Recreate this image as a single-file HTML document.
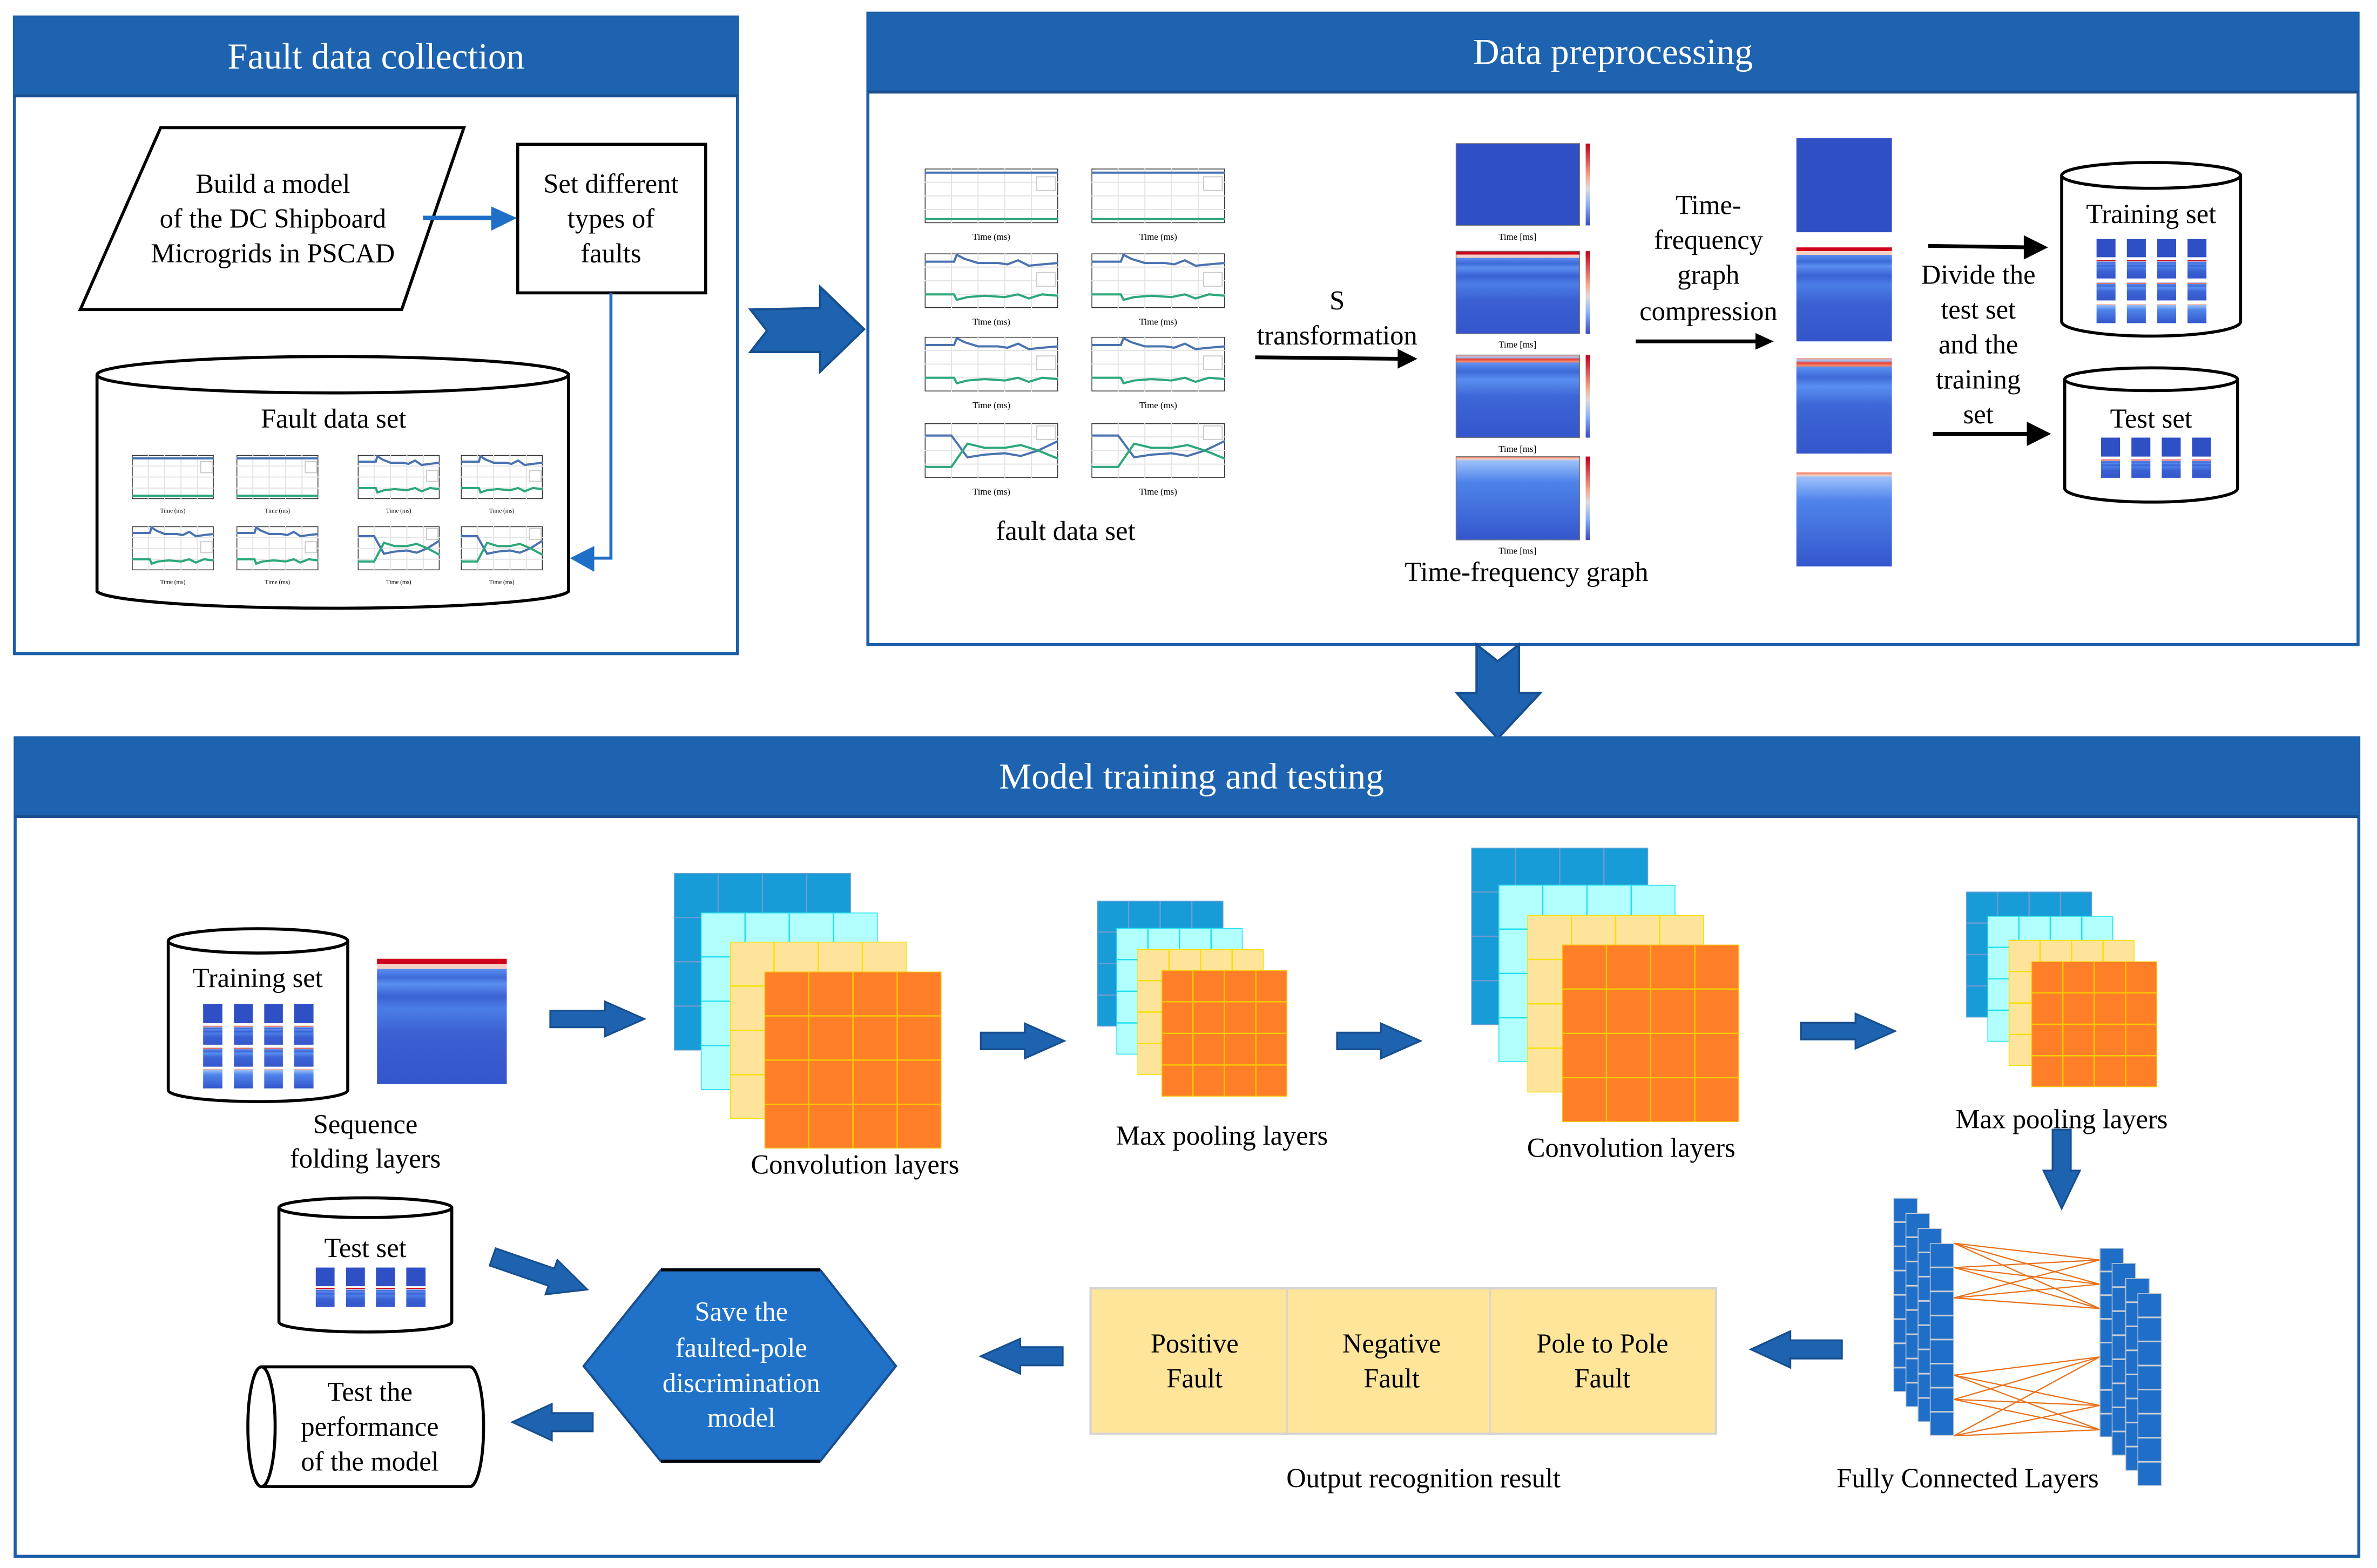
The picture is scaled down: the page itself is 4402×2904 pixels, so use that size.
<!DOCTYPE html>
<html><head><meta charset="utf-8"><style>
html,body{margin:0;padding:0;background:#fff}
svg{display:block}
text{font-family:"Liberation Serif","Times New Roman",serif;fill:#000}
.h{fill:#fff;font-size:24px}
.t{font-size:18px}
.s{font-size:17px}
</style></head><body>
<svg width="4402" height="2904" viewBox="0 0 1568 1034" xmlns="http://www.w3.org/2000/svg" xmlns:xlink="http://www.w3.org/1999/xlink">
<defs>
<symbol id="grid" viewBox="0 0 4 4" preserveAspectRatio="none">
<rect width="4" height="4" vector-effect="non-scaling-stroke" stroke-width="3"/>
<path d="M1 0V4M2 0V4M3 0V4M0 1H4M0 2H4M0 3H4" fill="none" vector-effect="non-scaling-stroke" stroke-width="2.5"/>
</symbol>
<symbol id="col8" viewBox="0 0 1 8" preserveAspectRatio="none">
<rect width="1" height="8" fill="#1f6fc8" stroke="#c8ccd4" stroke-width="3" vector-effect="non-scaling-stroke"/>
<path d="M0 1H1M0 2H1M0 3H1M0 4H1M0 5H1M0 6H1M0 7H1" stroke="#c8ccd4" stroke-width="3" vector-effect="non-scaling-stroke"/>
</symbol>
<symbol id="cf" viewBox="0 0 100 40" preserveAspectRatio="none">
<rect width="100" height="40" fill="#fff" stroke="#333" stroke-width="3" vector-effect="non-scaling-stroke"/>
<path d="M20 0V40M40 0V40M60 0V40M80 0V40M0 10H100M0 20H100M0 30H100" stroke="#e4e4e4" stroke-width="2" vector-effect="non-scaling-stroke"/>
<path d="M0 3H100" stroke="#4a72b0" stroke-width="4" fill="none" vector-effect="non-scaling-stroke"/>
<path d="M0 37H100" stroke="#2ca87a" stroke-width="4" fill="none" vector-effect="non-scaling-stroke"/>
<rect x="84" y="6" width="14" height="10" fill="#fff" stroke="#ccc" stroke-width="2" vector-effect="non-scaling-stroke"/>
</symbol>
<symbol id="cd" viewBox="0 0 100 40" preserveAspectRatio="none">
<rect width="100" height="40" fill="#fff" stroke="#333" stroke-width="3" vector-effect="non-scaling-stroke"/>
<path d="M20 0V40M40 0V40M60 0V40M80 0V40M0 10H100M0 20H100M0 30H100" stroke="#e4e4e4" stroke-width="2" vector-effect="non-scaling-stroke"/>
<path d="M0 6H22L24 1L30 4L40 7L55 7L62 8L70 5L78 9L88 8L100 7" stroke="#4a72b0" stroke-width="4" fill="none" vector-effect="non-scaling-stroke"/>
<path d="M0 30H22L24 34L32 32L45 31L60 32L70 30L78 33L88 30L100 31" stroke="#2ca87a" stroke-width="4" fill="none" vector-effect="non-scaling-stroke"/>
<rect x="84" y="14" width="14" height="10" fill="#fff" stroke="#ccc" stroke-width="2" vector-effect="non-scaling-stroke"/>
</symbol>
<symbol id="cv" viewBox="0 0 100 40" preserveAspectRatio="none">
<rect width="100" height="40" fill="#fff" stroke="#333" stroke-width="3" vector-effect="non-scaling-stroke"/>
<path d="M20 0V40M40 0V40M60 0V40M80 0V40M0 10H100M0 20H100M0 30H100" stroke="#e4e4e4" stroke-width="2" vector-effect="non-scaling-stroke"/>
<path d="M0 9H20L32 25L45 23L60 22L72 24L85 20L100 13" stroke="#4a72b0" stroke-width="4" fill="none" vector-effect="non-scaling-stroke"/>
<path d="M0 32H20L32 15L45 18L60 18L72 16L85 20L100 26" stroke="#2ca87a" stroke-width="4" fill="none" vector-effect="non-scaling-stroke"/>
<rect x="84" y="2" width="14" height="10" fill="#fff" stroke="#ccc" stroke-width="2" vector-effect="non-scaling-stroke"/>
</symbol>
<linearGradient id="g1" x1="0" y1="0" x2="0" y2="1"><stop offset="0" stop-color="#2f4fc4"/><stop offset="1" stop-color="#2f4fc4"/></linearGradient>
<linearGradient id="g2" x1="0" y1="0" x2="0" y2="1">
<stop offset="0" stop-color="#d0021b"/><stop offset="0.04" stop-color="#d0021b"/><stop offset="0.04" stop-color="#f4cfc6"/><stop offset="0.08" stop-color="#f4cfc6"/>
<stop offset="0.08" stop-color="#5a8ef0"/><stop offset="0.15" stop-color="#3e6ad8"/><stop offset="0.2" stop-color="#5a8ef0"/><stop offset="0.3" stop-color="#3a62d4"/><stop offset="0.4" stop-color="#4b7de6"/><stop offset="0.6" stop-color="#3a60d2"/><stop offset="1" stop-color="#3456cc"/></linearGradient>
<linearGradient id="g3" x1="0" y1="0" x2="0" y2="1">
<stop offset="0" stop-color="#f7a58a"/><stop offset="0.03" stop-color="#9fc0f8"/><stop offset="0.05" stop-color="#e8403a"/><stop offset="0.08" stop-color="#f48a6a"/><stop offset="0.1" stop-color="#5a8ef0"/><stop offset="0.2" stop-color="#3e6ad8"/><stop offset="0.3" stop-color="#5a8ef0"/><stop offset="0.5" stop-color="#3d66d6"/><stop offset="1" stop-color="#3456cc"/></linearGradient>
<linearGradient id="g4" x1="0" y1="0" x2="0" y2="1">
<stop offset="0" stop-color="#f46a50"/><stop offset="0.03" stop-color="#f4d0c0"/><stop offset="0.05" stop-color="#9cc0fa"/><stop offset="0.3" stop-color="#4f84ea"/><stop offset="1" stop-color="#3456cc"/></linearGradient>
<linearGradient id="cb" x1="0" y1="0" x2="0" y2="1"><stop offset="0" stop-color="#c0001e"/><stop offset="0.4" stop-color="#f4a88e"/><stop offset="0.55" stop-color="#dcdcdc"/><stop offset="0.75" stop-color="#8ab0f4"/><stop offset="1" stop-color="#3a4cc0"/></linearGradient>
</defs>

<!-- Panel 1 -->
<rect x="9.5" y="11" width="477" height="420" fill="#fff" stroke="#1d5ea8" stroke-width="2"/>
<rect x="9.5" y="11" width="477" height="52" fill="#1d63b0"/>
<line x1="9.5" y1="63" x2="486.5" y2="63" stroke="#1a4f8f" stroke-width="2"/>
<text class="h" x="248" y="45" text-anchor="middle">Fault data collection</text>
<polygon points="106,84 306,84 265,204 53,204" fill="#fff" stroke="#000" stroke-width="2"/>
<text class="t" x="180" y="127" text-anchor="middle">Build a model</text>
<text class="t" x="180" y="150" text-anchor="middle">of the DC Shipboard</text>
<text class="t" x="180" y="173" text-anchor="middle">Microgrids in PSCAD</text>
<rect x="341.5" y="95" width="124" height="98" fill="#fff" stroke="#000" stroke-width="2"/>
<text class="t" x="403" y="127" text-anchor="middle">Set different</text>
<text class="t" x="403" y="150" text-anchor="middle">types of</text>
<text class="t" x="403" y="173" text-anchor="middle">faults</text>
<line x1="279" y1="143.6" x2="326" y2="143.6" stroke="#1f6fc8" stroke-width="3"/>
<polygon points="324,136 341,143.6 324,152" fill="#1f6fc8"/>
<polyline points="403,193 403,368 390,368" fill="none" stroke="#1f6fc8" stroke-width="2"/>
<polygon points="392,360 376,368 392,377" fill="#1f6fc8"/>
<path d="M64 247 V390 A156 12 0 0 0 375 390 V247" fill="#fff" stroke="#000" stroke-width="2"/>
<ellipse cx="219.5" cy="247" rx="155.5" ry="12" fill="#fff" stroke="#000" stroke-width="2"/>
<text class="t" x="220" y="282" text-anchor="middle">Fault data set</text>
<use href="#cf" x="87" y="300" width="54" height="29"/>
<use href="#cf" x="156" y="300" width="54" height="29"/>
<use href="#cd" x="236" y="300" width="54" height="29"/>
<use href="#cd" x="304" y="300" width="54" height="29"/>
<use href="#cd" x="87" y="347" width="54" height="29"/>
<use href="#cd" x="156" y="347" width="54" height="29"/>
<use href="#cv" x="236" y="347" width="54" height="29"/>
<use href="#cv" x="304" y="347" width="54" height="29"/>
<g text-anchor="middle">
<text x="114" y="338" style="font-size:4px">Time (ms)</text><text x="183" y="338" style="font-size:4px">Time (ms)</text><text x="263" y="338" style="font-size:4px">Time (ms)</text><text x="331" y="338" style="font-size:4px">Time (ms)</text>
<text x="114" y="385" style="font-size:4px">Time (ms)</text><text x="183" y="385" style="font-size:4px">Time (ms)</text><text x="263" y="385" style="font-size:4px">Time (ms)</text><text x="331" y="385" style="font-size:4px">Time (ms)</text>
</g>

<!-- big arrow right -->
<polygon points="495,204 541,203 541,189 570,217 541,245 541,232 495,232 506,218" fill="#1d63b0" stroke="#174f90" stroke-width="1.5"/>

<!-- Panel 2 -->
<rect x="572.5" y="8.5" width="983" height="416.5" fill="#fff" stroke="#1d5ea8" stroke-width="2"/>
<rect x="572.5" y="8.5" width="983" height="52" fill="#1d63b0"/>
<line x1="572.5" y1="60.5" x2="1555.5" y2="60.5" stroke="#1a4f8f" stroke-width="2"/>
<text class="h" x="1064" y="42" text-anchor="middle">Data preprocessing</text>
<use href="#cf" x="610" y="111" width="88" height="36"/>
<use href="#cf" x="720" y="111" width="88" height="36"/>
<use href="#cd" x="610" y="167" width="88" height="36"/>
<use href="#cd" x="720" y="167" width="88" height="36"/>
<use href="#cd" x="610" y="222" width="88" height="36"/>
<use href="#cd" x="720" y="222" width="88" height="36"/>
<use href="#cv" x="610" y="279" width="88" height="36"/>
<use href="#cv" x="720" y="279" width="88" height="36"/>
<g text-anchor="middle">
<text x="654" y="158" style="font-size:6px">Time (ms)</text><text x="764" y="158" style="font-size:6px">Time (ms)</text>
<text x="654" y="214" style="font-size:6px">Time (ms)</text><text x="764" y="214" style="font-size:6px">Time (ms)</text>
<text x="654" y="269" style="font-size:6px">Time (ms)</text><text x="764" y="269" style="font-size:6px">Time (ms)</text>
<text x="654" y="326" style="font-size:6px">Time (ms)</text><text x="764" y="326" style="font-size:6px">Time (ms)</text>
</g>
<text class="t" x="703" y="356" text-anchor="middle">fault data set</text>
<text class="t" x="882" y="204" text-anchor="middle">S</text>
<text class="t" x="882" y="227" text-anchor="middle">transformation</text>
<line x1="828" y1="235.5" x2="924" y2="236.5" stroke="#000" stroke-width="2.5"/>
<polygon points="922,230 935,236.5 922,243" fill="#000"/>
<!-- spectrograms -->
<rect x="960.5" y="94.5" width="81.5" height="54" fill="url(#g1)" stroke="#777" stroke-width="0.5"/>
<rect x="960.5" y="165.5" width="81.5" height="54.5" fill="url(#g2)" stroke="#777" stroke-width="0.5"/>
<rect x="960.5" y="234" width="81.5" height="54.5" fill="url(#g3)" stroke="#777" stroke-width="0.5"/>
<rect x="960.5" y="301" width="81.5" height="55" fill="url(#g4)" stroke="#777" stroke-width="0.5"/>
<rect x="1046" y="94.5" width="3" height="54" fill="url(#cb)"/>
<rect x="1046" y="165.5" width="3" height="54.5" fill="url(#cb)"/>
<rect x="1046" y="234" width="3" height="54.5" fill="url(#cb)"/>
<rect x="1046" y="301" width="3" height="55" fill="url(#cb)"/>
<g text-anchor="middle">
<text x="1001" y="158" style="font-size:6px">Time [ms]</text>
<text x="1001" y="229" style="font-size:6px">Time [ms]</text>
<text x="1001" y="298" style="font-size:6px">Time [ms]</text>
<text x="1001" y="365" style="font-size:6px">Time [ms]</text>
</g>
<text class="t" x="1007" y="383" text-anchor="middle">Time-frequency graph</text>
<text class="t" x="1127" y="141" text-anchor="middle">Time-</text>
<text class="t" x="1127" y="164" text-anchor="middle">frequency</text>
<text class="t" x="1127" y="187" text-anchor="middle">graph</text>
<text class="t" x="1127" y="211" text-anchor="middle">compression</text>
<line x1="1079" y1="225" x2="1160" y2="225" stroke="#000" stroke-width="2.5"/>
<polygon points="1158,219.5 1170,225 1158,230.5" fill="#000"/>
<rect x="1185" y="91" width="63" height="62" fill="url(#g1)"/>
<rect x="1185" y="163" width="63" height="62" fill="url(#g2)"/>
<rect x="1185" y="236" width="63" height="63" fill="url(#g3)"/>
<rect x="1185" y="311.5" width="63" height="62" fill="url(#g4)"/>
<line x1="1272" y1="162" x2="1340" y2="163" stroke="#000" stroke-width="2.5"/>
<polygon points="1335,155 1351,163 1335,171" fill="#000"/>
<line x1="1275" y1="286" x2="1341" y2="286" stroke="#000" stroke-width="2.5"/>
<polygon points="1337,278 1353,286 1337,294" fill="#000"/>
<text class="t" x="1305" y="187" text-anchor="middle">Divide the</text>
<text class="t" x="1305" y="210" text-anchor="middle">test set</text>
<text class="t" x="1305" y="233" text-anchor="middle">and the</text>
<text class="t" x="1305" y="256" text-anchor="middle">training</text>
<text class="t" x="1305" y="279" text-anchor="middle">set</text>
<!-- training cyl -->
<path d="M1360 115.5 V212 A59 9.5 0 0 0 1478 212 V115.5" fill="#fff" stroke="#000" stroke-width="2"/>
<ellipse cx="1419" cy="115.5" rx="59" ry="8.5" fill="#fff" stroke="#000" stroke-width="2"/>
<text class="t" x="1419" y="147" text-anchor="middle">Training set</text>
<g>
<rect x="1383" y="157.5" width="12.5" height="12" fill="url(#g1)"/><rect x="1403" y="157.5" width="12.5" height="12" fill="url(#g1)"/><rect x="1423" y="157.5" width="12.5" height="12" fill="url(#g1)"/><rect x="1443" y="157.5" width="12.5" height="12" fill="url(#g1)"/>
<rect x="1383" y="171.5" width="12.5" height="12" fill="url(#g2)"/><rect x="1403" y="171.5" width="12.5" height="12" fill="url(#g2)"/><rect x="1423" y="171.5" width="12.5" height="12" fill="url(#g2)"/><rect x="1443" y="171.5" width="12.5" height="12" fill="url(#g2)"/>
<rect x="1383" y="186" width="12.5" height="12" fill="url(#g3)"/><rect x="1403" y="186" width="12.5" height="12" fill="url(#g3)"/><rect x="1423" y="186" width="12.5" height="12" fill="url(#g3)"/><rect x="1443" y="186" width="12.5" height="12" fill="url(#g3)"/>
<rect x="1383" y="200.5" width="12.5" height="12.5" fill="url(#g4)"/><rect x="1403" y="200.5" width="12.5" height="12.5" fill="url(#g4)"/><rect x="1423" y="200.5" width="12.5" height="12.5" fill="url(#g4)"/><rect x="1443" y="200.5" width="12.5" height="12.5" fill="url(#g4)"/>
</g>
<!-- test cyl -->
<path d="M1362 250 V322 A57 9 0 0 0 1476 322 V250" fill="#fff" stroke="#000" stroke-width="2"/>
<ellipse cx="1419" cy="250" rx="57" ry="7.5" fill="#fff" stroke="#000" stroke-width="2"/>
<text class="t" x="1419" y="282" text-anchor="middle">Test set</text>
<rect x="1386" y="288.5" width="12.5" height="12.5" fill="url(#g1)"/><rect x="1406" y="288.5" width="12.5" height="12.5" fill="url(#g1)"/><rect x="1426" y="288.5" width="12.5" height="12.5" fill="url(#g1)"/><rect x="1446" y="288.5" width="12.5" height="12.5" fill="url(#g1)"/>
<rect x="1386" y="303" width="12.5" height="12" fill="url(#g2)"/><rect x="1406" y="303" width="12.5" height="12" fill="url(#g2)"/><rect x="1426" y="303" width="12.5" height="12" fill="url(#g2)"/><rect x="1446" y="303" width="12.5" height="12" fill="url(#g2)"/>

<!-- down big arrow -->
<polygon points="974,425 988,436 1002,425 1002,457 1016,457 988,487 961,457 974,457" fill="#1d63b0" stroke="#174f90" stroke-width="1.5"/>

<!-- Panel 3 -->
<rect x="10" y="486.5" width="1546" height="540" fill="#fff" stroke="#1d5ea8" stroke-width="2"/>
<rect x="10" y="486.5" width="1546" height="52" fill="#1d63b0"/>
<line x1="10" y1="538.5" x2="1556" y2="538.5" stroke="#1a4f8f" stroke-width="2"/>
<text class="h" x="786" y="520" text-anchor="middle">Model training and testing</text>

<path d="M111 620.5 V719 A59.2 7.5 0 0 0 229.4 719 V620.5" fill="#fff" stroke="#000" stroke-width="2"/>
<ellipse cx="170.2" cy="620.5" rx="59.2" ry="8" fill="#fff" stroke="#000" stroke-width="2"/>
<text class="t" x="170" y="651" text-anchor="middle">Training set</text>
<rect x="134" y="662" width="12.7" height="12.8" fill="url(#g1)"/><rect x="154.3" y="662" width="12.4" height="12.8" fill="url(#g1)"/><rect x="174.3" y="662" width="12.3" height="12.8" fill="url(#g1)"/><rect x="194" y="662" width="12.8" height="12.8" fill="url(#g1)"/>
<rect x="134" y="676.5" width="12.7" height="12.5" fill="url(#g2)"/><rect x="154.3" y="676.5" width="12.4" height="12.5" fill="url(#g2)"/><rect x="174.3" y="676.5" width="12.3" height="12.5" fill="url(#g2)"/><rect x="194" y="676.5" width="12.8" height="12.5" fill="url(#g2)"/>
<rect x="134" y="690.8" width="12.7" height="12.7" fill="url(#g3)"/><rect x="154.3" y="690.8" width="12.4" height="12.7" fill="url(#g3)"/><rect x="174.3" y="690.8" width="12.3" height="12.7" fill="url(#g3)"/><rect x="194" y="690.8" width="12.8" height="12.7" fill="url(#g3)"/>
<rect x="134" y="705" width="12.7" height="12.8" fill="url(#g4)"/><rect x="154.3" y="705" width="12.4" height="12.8" fill="url(#g4)"/><rect x="174.3" y="705" width="12.3" height="12.8" fill="url(#g4)"/><rect x="194" y="705" width="12.8" height="12.8" fill="url(#g4)"/>
<rect x="248.7" y="632.3" width="85.6" height="82.7" fill="url(#g2)"/>
<text class="t" x="241" y="747.5" text-anchor="middle">Sequence</text>
<text class="t" x="241" y="770" text-anchor="middle">folding layers</text>

<g stroke="#174f90" stroke-width="1.2" fill="#1d63b0">
<polygon points="363,666.5 399,666.5 399,660.5 425,672 399,683.5 399,677.5 363,677.5"/>
<polygon points="647,681 676,681 676,675 702,686.5 676,698 676,692 647,692"/>
<polygon points="882,681 911,681 911,675 937,686.5 911,698 911,692 882,692"/>
<polygon points="1188,674.5 1224,674.5 1224,668.5 1250,680 1224,691.5 1224,685.5 1188,685.5"/>
<polygon points="1354,745 1354,772 1348,772 1360,797 1372,772 1366,772 1366,745"/>
<polygon points="1215,884 1181,884 1181,878 1155,890 1181,902 1181,896 1215,896"/>
<polygon points="701,888.5 673,888.5 673,883 647,894.5 673,906 673,900.5 701,900.5"/>
<polygon points="391,932 364,932 364,926 338,938 364,950 364,944 391,944"/>
<polygon transform="translate(325,829) rotate(19)" points="0,-6 41,-6 41,-12 66,0 41,12 41,6 0,6"/>
</g>

<!-- conv1 -->
<use href="#grid" x="444.6" y="575.8" width="116.7" height="117" fill="#189cd8" stroke="#6a9cd0"/>
<use href="#grid" x="462.3" y="601.8" width="116.7" height="117" fill="#b2ffff" stroke="#22e0f0"/>
<use href="#grid" x="481.5" y="621" width="116.5" height="117" fill="#fde49a" stroke="#f5e000"/>
<use href="#grid" x="504.3" y="640.8" width="116.7" height="116.7" fill="#fe7f27" stroke="#f7c800"/>
<text class="t" x="564" y="774" text-anchor="middle">Convolution layers</text>
<!-- pool1 -->
<use href="#grid" x="723.7" y="594" width="83.3" height="83" fill="#189cd8" stroke="#6a9cd0"/>
<use href="#grid" x="736.4" y="612" width="83.3" height="83.5" fill="#b2ffff" stroke="#22e0f0"/>
<use href="#grid" x="750.3" y="626" width="83.3" height="83" fill="#fde49a" stroke="#f5e000"/>
<use href="#grid" x="766.2" y="639.8" width="83" height="83.4" fill="#fe7f27" stroke="#f7c800"/>
<text class="t" x="806" y="755" text-anchor="middle">Max pooling layers</text>
<!-- conv2 -->
<use href="#grid" x="970.5" y="559" width="116.7" height="117" fill="#189cd8" stroke="#6a9cd0"/>
<use href="#grid" x="988.5" y="583.5" width="116.7" height="117" fill="#b2ffff" stroke="#22e0f0"/>
<use href="#grid" x="1007.5" y="603.5" width="116.5" height="117" fill="#fde49a" stroke="#f5e000"/>
<use href="#grid" x="1030.5" y="623" width="116.7" height="117" fill="#fe7f27" stroke="#f7c800"/>
<text class="t" x="1076" y="763" text-anchor="middle">Convolution layers</text>
<!-- pool2 -->
<use href="#grid" x="1297" y="588" width="83" height="83" fill="#189cd8" stroke="#6a9cd0"/>
<use href="#grid" x="1311" y="604" width="83" height="83" fill="#b2ffff" stroke="#22e0f0"/>
<use href="#grid" x="1325" y="620" width="83" height="83" fill="#fde49a" stroke="#f5e000"/>
<use href="#grid" x="1340" y="634" width="83" height="83" fill="#fe7f27" stroke="#f7c800"/>
<text class="t" x="1360" y="744" text-anchor="middle">Max pooling layers</text>

<!-- fully connected -->
<use href="#col8" x="1249" y="790" width="16" height="128"/>
<use href="#col8" x="1257" y="800" width="16" height="128"/>
<use href="#col8" x="1265" y="810" width="16" height="128"/>
<use href="#col8" x="1273" y="820" width="16" height="127"/>
<use href="#col8" x="1385" y="823" width="16" height="125"/>
<use href="#col8" x="1393" y="833" width="16" height="127"/>
<use href="#col8" x="1402" y="843" width="16" height="127"/>
<use href="#col8" x="1410" y="853" width="16" height="127"/>
<g stroke="#e8701a" stroke-width="0.8">
<path d="M1289 820L1385 831M1289 820L1385 847M1289 820L1385 863M1289 836L1385 831M1289 836L1385 847M1289 836L1385 863M1289 856L1385 831M1289 856L1385 847M1289 856L1385 863"/>
<path d="M1289 907L1385 895M1289 907L1385 927M1289 907L1385 943M1289 923L1385 895M1289 923L1385 927M1289 923L1385 943M1289 947L1385 895M1289 947L1385 927M1289 947L1385 943"/>
</g>
<text class="t" x="1298" y="981" text-anchor="middle">Fully Connected Layers</text>

<!-- output -->
<rect x="719.4" y="849.7" width="412.6" height="96" fill="#fee599" stroke="#d4d4d4" stroke-width="1.5"/>
<line x1="849" y1="849.7" x2="849" y2="945.7" stroke="#d4d4d4"/>
<line x1="983" y1="849.7" x2="983" y2="945.7" stroke="#d4d4d4"/>
<text class="t" x="788" y="892" text-anchor="middle">Positive</text>
<text class="t" x="788" y="915" text-anchor="middle">Fault</text>
<text class="t" x="918" y="892" text-anchor="middle">Negative</text>
<text class="t" x="918" y="915" text-anchor="middle">Fault</text>
<text class="t" x="1057" y="892" text-anchor="middle">Pole to Pole</text>
<text class="t" x="1057" y="915" text-anchor="middle">Fault</text>
<text class="t" x="939" y="981" text-anchor="middle">Output recognition result</text>

<!-- hexagon -->
<polygon points="385,901 436,837.5 541,837.5 591,901 541,963.8 436,963.8" fill="#1f72c8" stroke="#1a4f8f" stroke-width="1.5"/>
<line x1="436" y1="837.5" x2="541" y2="837.5" stroke="#000" stroke-width="2"/>
<line x1="436" y1="963.8" x2="541" y2="963.8" stroke="#000" stroke-width="2"/>
<text class="t" x="489" y="871" text-anchor="middle" style="fill:#fff">Save the</text>
<text class="t" x="489" y="895" text-anchor="middle" style="fill:#fff">faulted-pole</text>
<text class="t" x="489" y="918" text-anchor="middle" style="fill:#fff">discrimination</text>
<text class="t" x="489" y="941" text-anchor="middle" style="fill:#fff">model</text>

<!-- test cyl -->
<path d="M184 796.5 V872 A57 6.5 0 0 0 298 872 V796.5" fill="#fff" stroke="#000" stroke-width="2"/>
<ellipse cx="241" cy="796.5" rx="57" ry="6.5" fill="#fff" stroke="#000" stroke-width="2"/>
<text class="t" x="241" y="829" text-anchor="middle">Test set</text>
<rect x="208.3" y="836" width="12.4" height="12.3" fill="url(#g1)"/><rect x="228.3" y="836" width="12.4" height="12.3" fill="url(#g1)"/><rect x="248" y="836" width="12.5" height="12.3" fill="url(#g1)"/><rect x="268" y="836" width="12.7" height="12.3" fill="url(#g1)"/>
<rect x="208.3" y="849.5" width="12.4" height="12.5" fill="url(#g2)"/><rect x="228.3" y="849.5" width="12.4" height="12.5" fill="url(#g2)"/><rect x="248" y="849.5" width="12.5" height="12.5" fill="url(#g2)"/><rect x="268" y="849.5" width="12.7" height="12.5" fill="url(#g2)"/>

<!-- horizontal cyl -->
<path d="M172.5 901.5 H310 A9 39.5 0 0 1 310 980.5 H172.5" fill="#fff" stroke="#000" stroke-width="2"/>
<ellipse cx="172.5" cy="941" rx="9" ry="39.5" fill="#fff" stroke="#000" stroke-width="2"/>
<text class="t" x="244" y="924" text-anchor="middle">Test the</text>
<text class="t" x="244" y="947" text-anchor="middle">performance</text>
<text class="t" x="244" y="970" text-anchor="middle">of the model</text>
</svg>
</body></html>
